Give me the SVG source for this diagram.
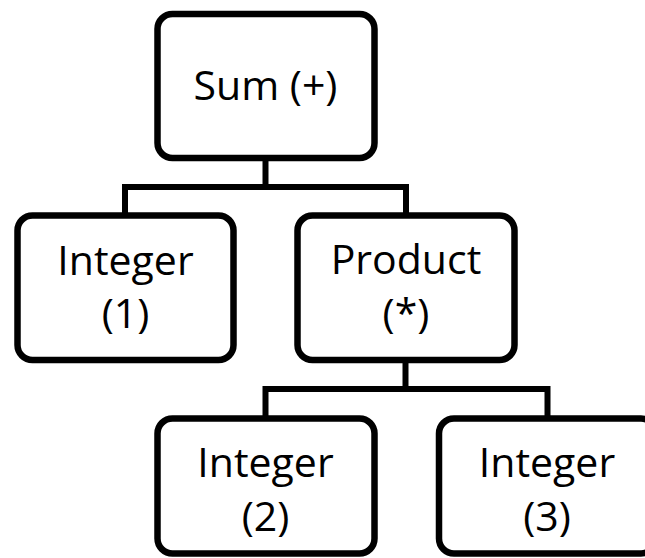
<svg xmlns="http://www.w3.org/2000/svg" width="645" height="558" viewBox="0 0 645 558">
  <style>
    .box { fill: #ffffff; stroke: #000000; stroke-width: 6.5; }
    .link { fill: none; stroke: #000000; stroke-width: 6; stroke-linejoin: miter; }
    .label { font-family: "Open Sans", "Liberation Sans", sans-serif; font-size: 41px; fill: #000000; text-anchor: middle; }
  </style>
  <rect width="645" height="558" fill="#ffffff"/>

  <!-- tree edges -->
  <g id="connectors">
    <path class="link" d="M265.5 161 V187"/>
    <path class="link" d="M125 213 V187 H406 V213"/>
    <path class="link" d="M405.5 363 V389"/>
    <path class="link" d="M265.5 416 V389 H547.5 V416"/>
  </g>

  <g id="sum">
    <rect class="box" x="157.5" y="14" width="217" height="144" rx="15"/>
    <text class="label" x="265.5" y="100">Sum (+)</text>
  </g>

  <g id="integer1">
    <rect class="box" x="17.5" y="215.5" width="216" height="144.5" rx="15"/>
    <text class="label" x="125.5" y="275">Integer</text>
    <text class="label" x="125.5" y="328">(1)</text>
  </g>

  <g id="product">
    <rect class="box" x="297.5" y="215.5" width="217" height="144.5" rx="15"/>
    <text class="label" x="406" y="274">Product</text>
    <text class="label" x="406" y="328">(*)</text>
  </g>

  <g id="integer2">
    <rect class="box" x="157.5" y="418.5" width="217" height="135" rx="15"/>
    <text class="label" x="265.5" y="477">Integer</text>
    <text class="label" x="265.5" y="531">(2)</text>
  </g>

  <g id="integer3">
    <rect class="box" x="439" y="418.5" width="217" height="135" rx="15"/>
    <text class="label" x="547" y="477">Integer</text>
    <text class="label" x="547" y="531">(3)</text>
  </g>
</svg>
